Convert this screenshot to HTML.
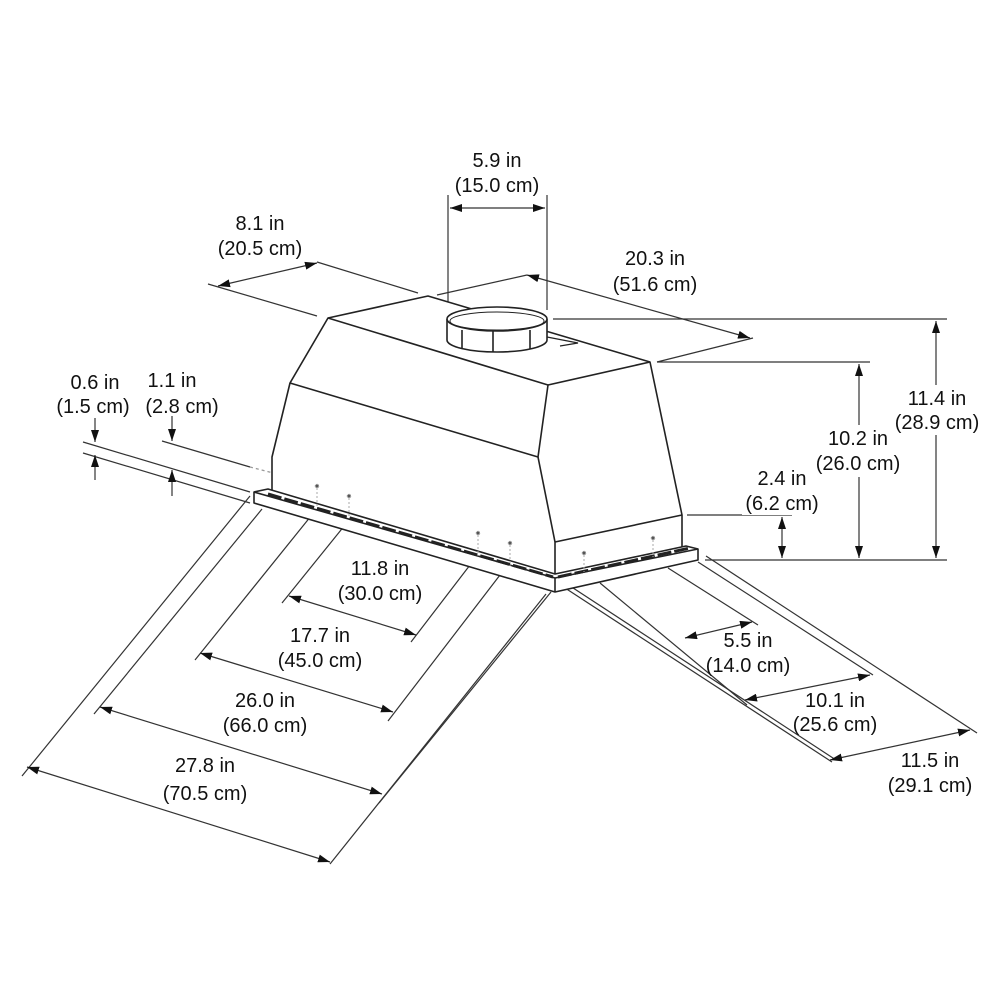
<!DOCTYPE html>
<html><head><meta charset="utf-8"><style>
html,body{margin:0;padding:0;background:#fff;}
svg{display:block;}
text{font-family:"Liberation Sans",sans-serif;font-size:20px;fill:#111;text-anchor:middle;}
</style></head><body>
<svg width="1000" height="1000" viewBox="0 0 1000 1000" xmlns="http://www.w3.org/2000/svg">
<defs>
<marker id="a" viewBox="0 0 12 8" refX="12" refY="4" markerWidth="12" markerHeight="8" markerUnits="userSpaceOnUse" orient="auto-start-reverse"><path d="M0,0 L12,4 L0,8 z" fill="#111"/></marker>
</defs>
<g stroke="#333" stroke-width="1.2" fill="none">
<line x1="448" y1="195" x2="448" y2="308"/>
<line x1="547" y1="195" x2="547" y2="310"/>
<line x1="450" y1="208" x2="545" y2="208" marker-start="url(#a)" marker-end="url(#a)"/>
<line x1="208" y1="284" x2="317" y2="316"/>
<line x1="317" y1="262" x2="418" y2="293"/>
<line x1="218" y1="286" x2="317" y2="263" marker-start="url(#a)" marker-end="url(#a)"/>
<line x1="437" y1="295" x2="527" y2="275"/>
<line x1="657" y1="362" x2="753" y2="338"/>
<line x1="527" y1="275" x2="750" y2="338" marker-start="url(#a)" marker-end="url(#a)"/>
<line x1="553" y1="319" x2="947" y2="319"/>
<line x1="657" y1="362" x2="870" y2="362"/>
<line x1="687" y1="515" x2="792" y2="515"/>
<line x1="705" y1="560" x2="947" y2="560"/>
<line x1="782" y1="517" x2="782" y2="558" marker-start="url(#a)" marker-end="url(#a)"/>
<line x1="859" y1="364" x2="859" y2="558" marker-start="url(#a)" marker-end="url(#a)"/>
<line x1="936" y1="321" x2="936" y2="558" marker-start="url(#a)" marker-end="url(#a)"/>
<line x1="83" y1="442" x2="250" y2="492"/>
<line x1="83" y1="453" x2="250" y2="503"/>
<line x1="162" y1="441" x2="250" y2="467"/>
<line x1="250" y1="467" x2="316" y2="484" stroke="#999" stroke-dasharray="3,3"/>
<line x1="95" y1="418" x2="95" y2="442" marker-end="url(#a)"/>
<line x1="95" y1="480" x2="95" y2="455" marker-end="url(#a)"/>
<line x1="172" y1="416" x2="172" y2="441" marker-end="url(#a)"/>
<line x1="172" y1="496" x2="172" y2="470" marker-end="url(#a)"/>
<line x1="250" y1="496" x2="22" y2="776"/>
<line x1="262" y1="509" x2="94" y2="714"/>
<line x1="311" y1="516" x2="195" y2="660"/>
<line x1="345" y1="525" x2="282" y2="603"/>
<line x1="470" y1="565" x2="411" y2="642"/>
<line x1="500" y1="575" x2="388" y2="721"/>
<line x1="551" y1="592" x2="379" y2="803"/>
<line x1="546" y1="594" x2="330" y2="864"/>
<line x1="289" y1="596" x2="416" y2="635" marker-start="url(#a)" marker-end="url(#a)"/>
<line x1="200" y1="653" x2="393" y2="712" marker-start="url(#a)" marker-end="url(#a)"/>
<line x1="100" y1="707" x2="382" y2="794" marker-start="url(#a)" marker-end="url(#a)"/>
<line x1="27" y1="767" x2="330" y2="862" marker-start="url(#a)" marker-end="url(#a)"/>
<line x1="562" y1="586" x2="832" y2="762"/>
<line x1="567" y1="584" x2="836" y2="760"/>
<line x1="600" y1="583" x2="747" y2="705"/>
<line x1="668" y1="568" x2="758" y2="625"/>
<line x1="698" y1="562" x2="873" y2="675"/>
<line x1="706" y1="556" x2="977" y2="733"/>
<line x1="685" y1="638" x2="752" y2="622" marker-start="url(#a)" marker-end="url(#a)"/>
<line x1="745" y1="700" x2="870" y2="675" marker-start="url(#a)" marker-end="url(#a)"/>
<line x1="830" y1="760" x2="970" y2="730" marker-start="url(#a)" marker-end="url(#a)"/>
</g>
<g stroke="#222" stroke-width="1.6" fill="#fff" stroke-linejoin="round">
<path d="M328,318 L428,296 L650,362 L682,515 L682,549 L555,578 L272,492 L272,457 L290,383 Z"/>
<polyline fill="none" points="290,383 538,457 548,385 328,318"/>
<polyline fill="none" points="548,385 650,362"/>
<polyline fill="none" points="538,457 555,542 555,578"/>
<polyline fill="none" points="555,542 682,515"/>
<path d="M254,492 L268,489 L555,574 L686,546 L698,549 L698,560 L555,592 L254,503 Z"/>
<polyline fill="none" points="254,492 555,578 698,549"/>
<line x1="555" y1="578" x2="555" y2="592"/>
</g>
<g stroke="#222" stroke-width="3" stroke-dasharray="14,3" fill="none">
<line x1="268" y1="494" x2="553" y2="577"/>
<line x1="558" y1="577" x2="690" y2="548"/>
</g>
<g stroke="#222" stroke-width="1.6" fill="#fff">
<path d="M447,319 L447,340 A50,12 0 0 0 547,340 L547,319"/>
<ellipse cx="497" cy="319" rx="50" ry="12"/>
<ellipse cx="497" cy="321" rx="47" ry="9" fill="none" stroke-width="1"/>
<path d="M547,337 L578,343 L560,346" fill="none" stroke-width="1.2"/>
<line x1="462" y1="330" x2="462" y2="348"/>
<line x1="493" y1="331" x2="493" y2="352"/>
<line x1="530" y1="330" x2="530" y2="349"/>
</g>
<g fill="#555" stroke="#aaa" stroke-dasharray="2,2" stroke-width="1">
<circle cx="317" cy="486" r="1.8"/><line x1="317" y1="488" x2="317" y2="508"/>
<circle cx="349" cy="496" r="1.8"/><line x1="349" y1="498" x2="349" y2="518"/>
<circle cx="478" cy="533" r="1.8"/><line x1="478" y1="535" x2="478" y2="556"/>
<circle cx="510" cy="543" r="1.8"/><line x1="510" y1="545" x2="510" y2="566"/>
<circle cx="584" cy="553" r="1.8"/><line x1="584" y1="555" x2="584" y2="572"/>
<circle cx="653" cy="538" r="1.8"/><line x1="653" y1="540" x2="653" y2="557"/>
</g>
<g fill="#fff">
<rect x="892" y="385" width="92" height="50"/>
<rect x="812" y="425" width="94" height="52"/>
<rect x="742" y="465" width="80" height="50"/>
</g>
<g>
<text x="497" y="167">5.9 in</text><text x="497" y="192">(15.0 cm)</text>
<text x="260" y="230">8.1 in</text><text x="260" y="255">(20.5 cm)</text>
<text x="655" y="265">20.3 in</text><text x="655" y="291">(51.6 cm)</text>
<text x="95" y="389">0.6 in</text><text x="93" y="413">(1.5 cm)</text>
<text x="172" y="387">1.1 in</text><text x="182" y="413">(2.8 cm)</text>
<text x="937" y="405">11.4 in</text><text x="937" y="429">(28.9 cm)</text>
<text x="858" y="445">10.2 in</text><text x="858" y="470">(26.0 cm)</text>
<text x="782" y="485">2.4 in</text><text x="782" y="510">(6.2 cm)</text>
<text x="380" y="575">11.8 in</text><text x="380" y="600">(30.0 cm)</text>
<text x="320" y="642">17.7 in</text><text x="320" y="667">(45.0 cm)</text>
<text x="265" y="707">26.0 in</text><text x="265" y="732">(66.0 cm)</text>
<text x="205" y="772">27.8 in</text><text x="205" y="800">(70.5 cm)</text>
<text x="748" y="647">5.5 in</text><text x="748" y="672">(14.0 cm)</text>
<text x="835" y="707">10.1 in</text><text x="835" y="731">(25.6 cm)</text>
<text x="930" y="767">11.5 in</text><text x="930" y="792">(29.1 cm)</text>
</g>
</svg>
</body></html>
